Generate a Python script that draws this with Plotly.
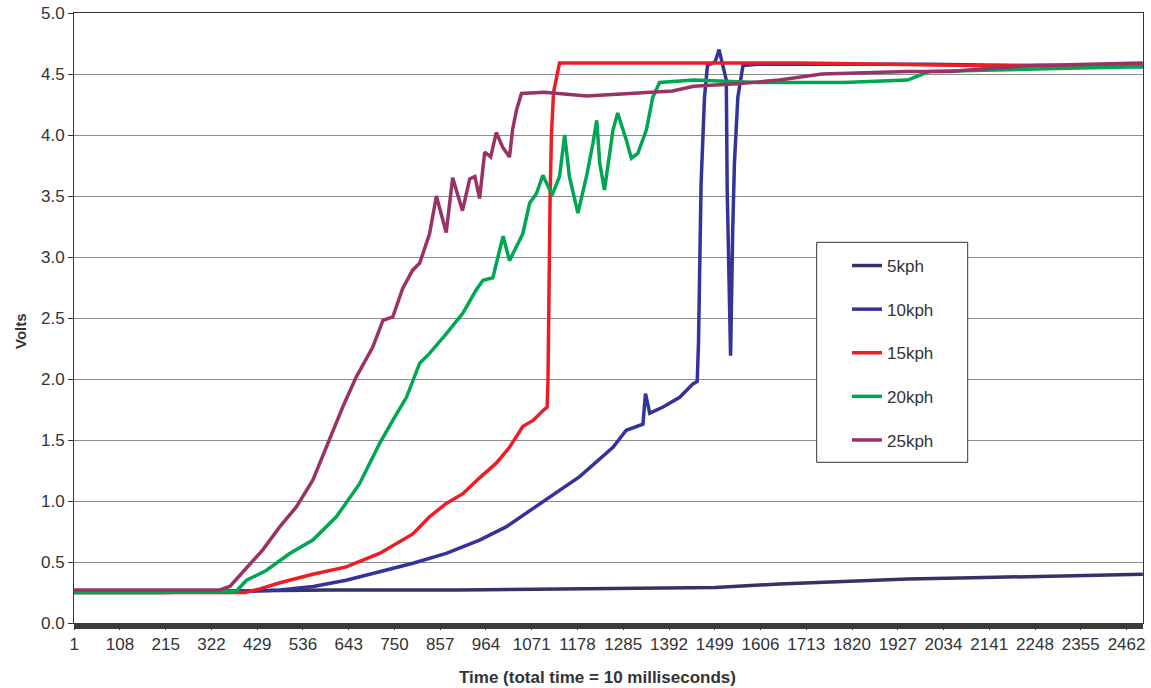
import plotly.graph_objects as go

# ---------------- data ----------------
tick_labels = [1, 108, 215, 322, 429, 536, 643, 750, 857, 964, 1071, 1178, 1285,
               1392, 1499, 1606, 1713, 1820, 1927, 2034, 2141, 2248, 2355, 2462]

series_names = ["5kph", "10kph", "15kph", "20kph", "25kph"]
series_colors = ["#333366", "#333399", "#EE1C25", "#00A651", "#993366"]

s5 = [1, 300, 600, 900, 1200, 1500, 1650, 1800, 1950, 2100, 2250, 2400, 2500]
v5 = [0.26, 0.26, 0.27, 0.27, 0.28, 0.29, 0.32, 0.34, 0.36, 0.37, 0.38, 0.39, 0.40]

s10 = [1, 200, 400, 482, 560, 637, 715, 793, 871, 949, 1012, 1105, 1183, 1261, 1292,
       1331, 1337, 1347, 1378, 1417, 1448, 1458, 1461, 1467, 1475, 1482, 1500, 1509,
       1518, 1526, 1528, 1536, 1541, 1545, 1553, 1565, 1600, 1800, 2000, 2200, 2400, 2500]
v10 = [0.25, 0.25, 0.26, 0.27, 0.30, 0.35, 0.42, 0.49, 0.57, 0.68, 0.79, 1.01, 1.20, 1.44, 1.58,
       1.63, 1.88, 1.72, 1.77, 1.85, 1.96, 1.98, 2.30, 3.60, 4.31, 4.57, 4.60, 4.70,
       4.55, 4.45, 3.57, 2.19, 3.22, 3.77, 4.31, 4.57, 4.58, 4.58, 4.58, 4.57, 4.57, 4.56]

s15 = [1, 200, 400, 435, 482, 559, 637, 715, 793, 832, 871, 910, 949, 988, 1019, 1050,
       1074, 1097, 1107, 1109, 1111, 1114, 1117, 1122, 1136, 1300, 1500, 1700, 1900,
       2100, 2300, 2500]
v15 = [0.25, 0.25, 0.25, 0.28, 0.33, 0.40, 0.46, 0.57, 0.73, 0.87, 0.98, 1.06, 1.19, 1.31, 1.44, 1.61,
       1.66, 1.74, 1.77, 1.99, 2.70, 3.50, 4.00, 4.35, 4.59, 4.59, 4.59, 4.59, 4.58,
       4.57, 4.57, 4.57]

s20 = [1, 200, 380, 404, 450, 505, 559, 614, 668, 715, 746, 778, 809, 832, 871, 910, 941,
       957, 980, 1004, 1019, 1035, 1050, 1066, 1082, 1097, 1113, 1120, 1136, 1148, 1159,
       1179, 1199, 1214, 1223, 1230, 1241, 1261, 1272, 1292, 1304, 1319, 1339, 1354, 1370,
       1450, 1600, 1800, 1950, 2000, 2200, 2350, 2500]
v20 = [0.25, 0.25, 0.26, 0.35, 0.43, 0.57, 0.68, 0.87, 1.14, 1.47, 1.66, 1.85, 2.13, 2.21, 2.37, 2.54, 2.73,
       2.81, 2.83, 3.17, 2.97, 3.08, 3.19, 3.44, 3.52, 3.67, 3.55, 3.52, 3.66, 4.00, 3.66,
       3.36, 3.66, 3.93, 4.12, 3.77, 3.55, 4.04, 4.18, 3.96, 3.81, 3.85, 4.04, 4.31, 4.43,
       4.45, 4.43, 4.43, 4.45, 4.52, 4.54, 4.55, 4.56]

s25 = [1, 200, 340, 365, 404, 442, 482, 520, 559, 598, 629, 661, 699, 723, 746, 769, 792,
       809, 816, 832, 848, 860, 871, 886, 909, 926, 938, 949, 961, 975, 988, 1003, 1019,
       1026, 1035, 1047, 1100, 1200, 1300, 1400, 1450, 1550, 1650, 1750, 1850, 1950, 2050,
       2150, 2250, 2350, 2450, 2500]
v25 = [0.27, 0.27, 0.27, 0.30, 0.45, 0.60, 0.79, 0.95, 1.17, 1.50, 1.77, 2.02, 2.26, 2.48, 2.51, 2.74, 2.89,
       2.95, 3.03, 3.19, 3.50, 3.35, 3.20, 3.65, 3.38, 3.64, 3.66, 3.48, 3.86, 3.82, 4.02, 3.90, 3.82,
       4.04, 4.20, 4.34, 4.35, 4.32, 4.34, 4.36, 4.40, 4.42, 4.45, 4.50, 4.51, 4.52, 4.52,
       4.55, 4.57, 4.58, 4.59, 4.59]

series_x = [s5, s10, s15, s20, s25]
series_y = [v5, v10, v15, v20, v25]

# ---------------- figure ----------------
FONT = "Liberation Sans, Arial, sans-serif"
W, H = 1151, 688
ML, MR, MT, MB = 74, 8, 13, 65
PW, PH = W - ML - MR, H - MT - MB


def px(xp):
    return (xp - ML) / PW


def py(yp):
    return (H - MB - yp) / PH


fig = go.Figure()
for name, xs, ys, col in zip(series_names, series_x, series_y, series_colors):
    fig.add_trace(go.Scatter(x=xs, y=ys, mode="lines", name=name, legendgroup=name,
                             line=dict(color=col, width=3.5)))

fig.update_layout(
    width=W, height=H,
    margin=dict(l=ML, r=MR, t=MT, b=MB, autoexpand=False),
    paper_bgcolor="white", plot_bgcolor="white",
    font=dict(family=FONT, size=17, color="#333333"),
    showlegend=True,
    legend=dict(x=px(847), y=py(248), xanchor="left", yanchor="top",
                bgcolor="rgba(0,0,0,0)", borderwidth=0,
                traceorder="grouped", tracegroupgap=18.5,
                font=dict(family=FONT, size=17, color="#333333")),
    xaxis=dict(range=[0.5, 2500.5], tickmode="array", tickvals=tick_labels,
               ticktext=[str(t) for t in tick_labels], showgrid=False, zeroline=False,
               showline=True, linecolor="#333333", linewidth=1, mirror=True,
               ticks="outside", ticklen=6, tickcolor="#3a3a3a", automargin=False,
               tickfont=dict(family=FONT, size=17, color="#333333")),
    yaxis=dict(range=[0, 5], dtick=0.5, tickformat=".1f", showgrid=True,
               gridcolor="#8c8c8c", gridwidth=1, zeroline=False,
               showline=True, linecolor="#333333", linewidth=1, mirror=True,
               ticks="outside", ticklen=5, tickcolor="#333333", automargin=False,
               tickfont=dict(family=FONT, size=17, color="#333333")),
    shapes=[
        # dense category tick band under the x axis
        dict(type="rect", xref="paper", yref="paper", x0=0, x1=1, y0=-6 / PH, y1=0,
             fillcolor="#3a3a3a", line=dict(width=0), layer="above"),
        # legend box
        dict(type="rect", xref="paper", yref="paper", x0=px(816.7), x1=px(967.7),
             y0=py(462.3), y1=py(242.3), fillcolor="white",
             line=dict(color="#333333", width=1), layer="above"),
    ],
    annotations=[
        dict(text="<b>Volts</b>", xref="paper", yref="paper", x=px(20), y=py(331),
             xanchor="center", yanchor="middle", textangle=-90, showarrow=False,
             font=dict(family=FONT, size=15, color="#333333")),
        dict(text="<b>Time (total time = 10 milliseconds)</b>", xref="paper", yref="paper",
             x=px(597), y=py(677), xanchor="center", yanchor="middle", showarrow=False,
             font=dict(family=FONT, size=17, color="#333333")),
    ],
)

fig.write_html("out.html", config={"displayModeBar": False},
               post_script="document.body.style.margin='0';")
